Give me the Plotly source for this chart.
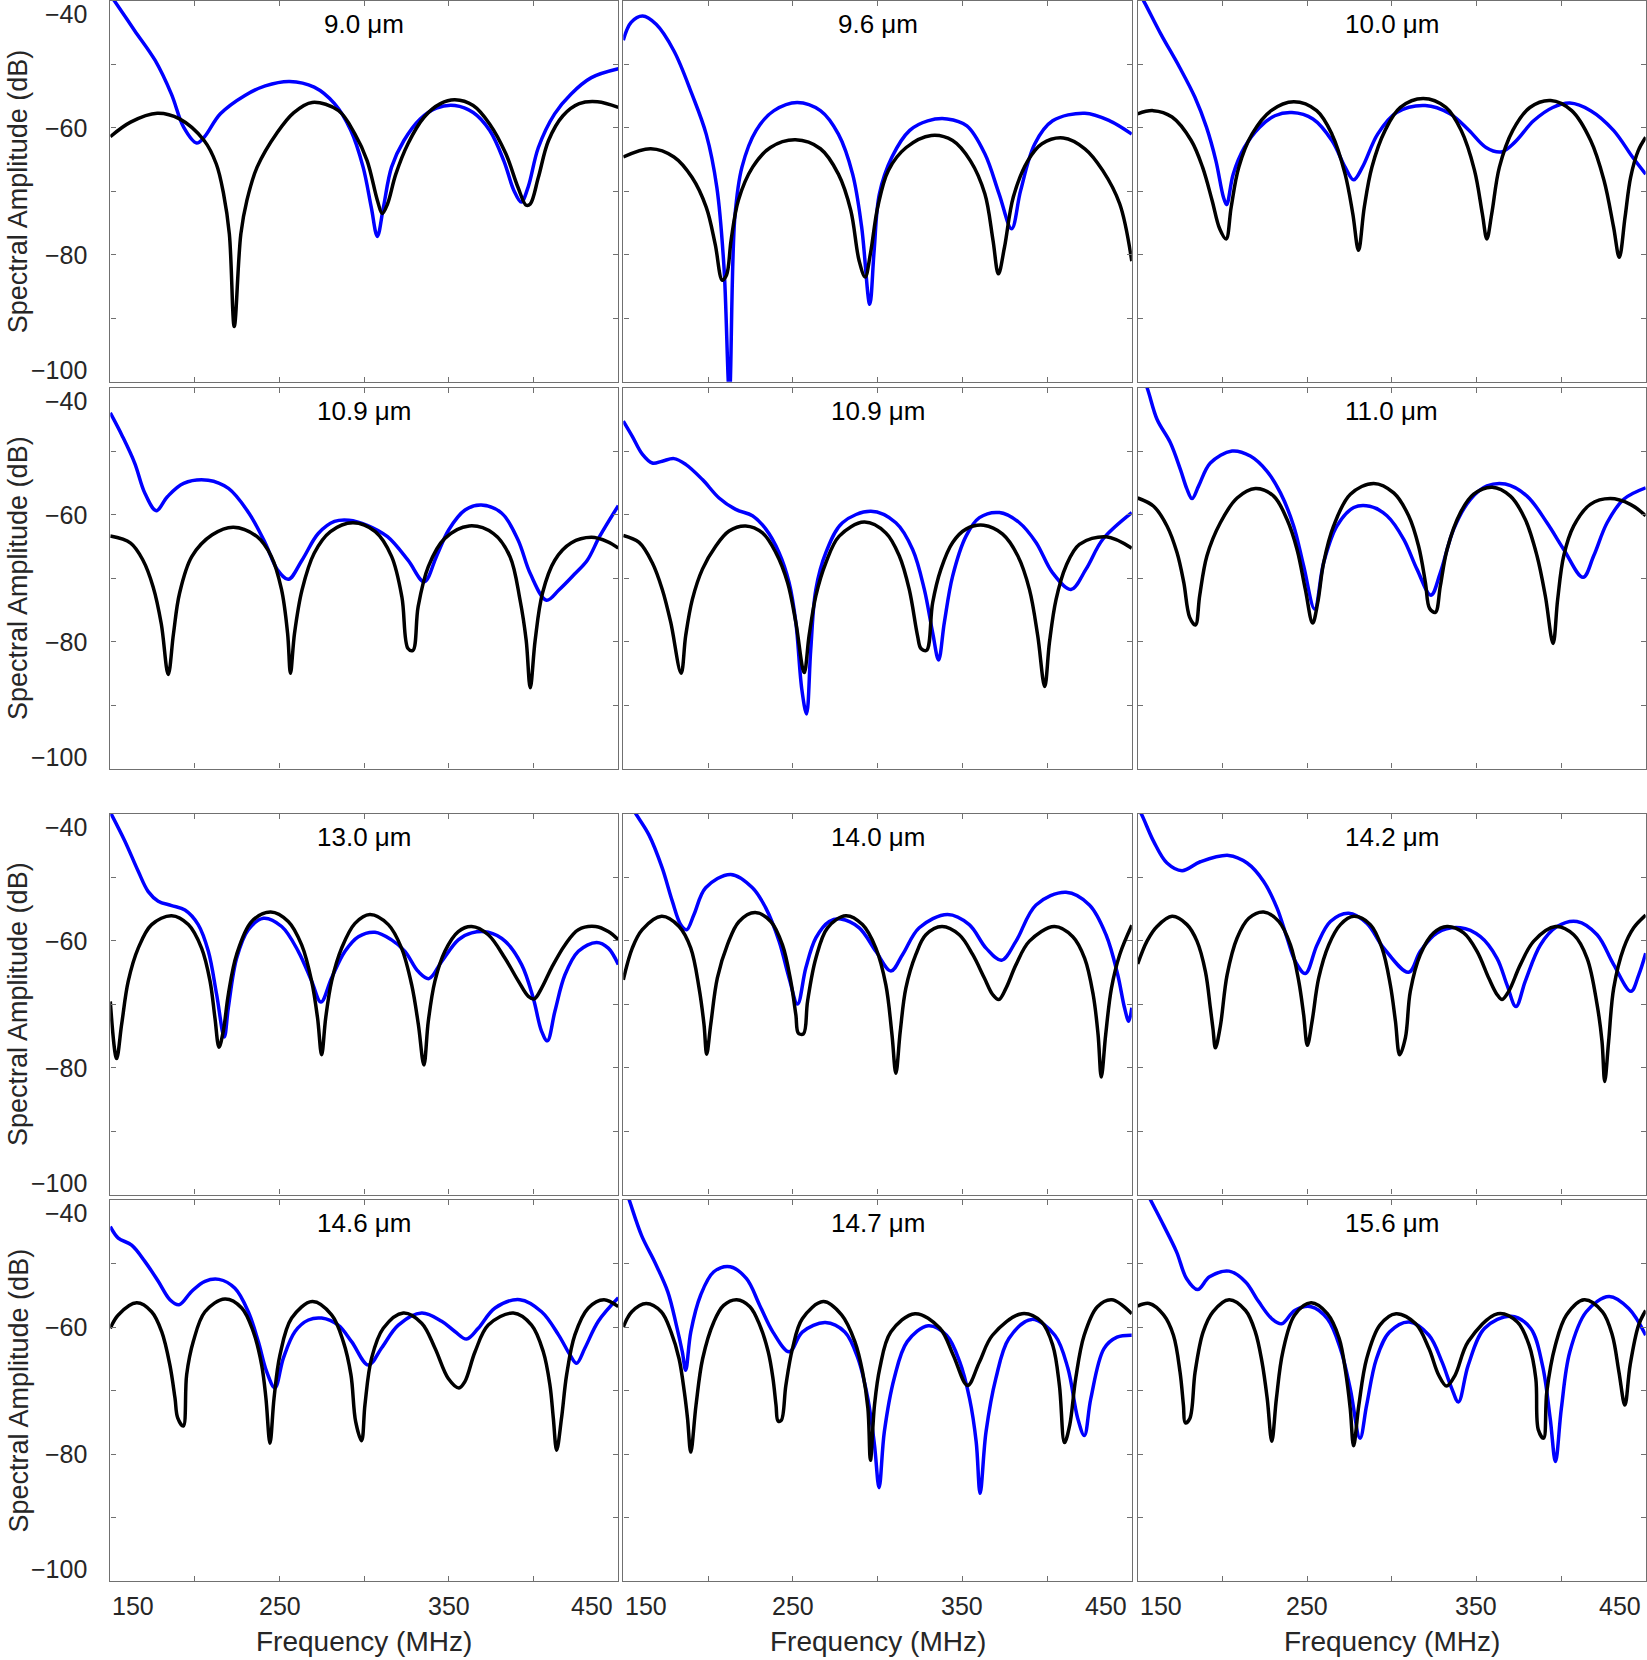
import plotly.graph_objects as go

W, H = 1647, 1660
FREQ_RANGE = [150, 450]
DB_RANGE = [-100, -40]

panel_titles = ["9.0 μm", "9.6 μm", "10.0 μm",
                "10.9 μm", "10.9 μm", "11.0 μm",
                "13.0 μm", "14.0 μm", "14.2 μm",
                "14.6 μm", "14.7 μm", "15.6 μm"]

ytick_vals = [-40, -60, -80, -100]
ytick_text = ["\u221240", "\u221260", "\u221280", "\u2212100"]
xtick_vals = [150, 250, 350, 450]
xtick_text = ["150", "250", "350", "450"]
y_title = "Spectral Amplitude (dB)"
x_title = "Frequency (MHz)"

# ---------------- panel 1 : 9.0 um ----------------
p1_black_f = [150, 162.0, 177.7, 190.9, 205.4, 212.6, 216.9, 220.3, 223.2, 227.1, 230.7, 236.7, 248.7, 258.4, 269.2, 284.8, 294.5, 301.7, 307.7, 310.6, 313.7, 318.6, 325.8, 335.4, 345.0, 353.5, 364.3, 374.0, 383.6, 390.8, 395.6, 398.0, 402.8, 408.8, 417.3, 426.9, 437.7, 450]
p1_black_db = [-61.4, -59.1, -57.7, -58.6, -62.0, -65.7, -70.4, -76.7, -91.3, -76.7, -71.4, -66.2, -60.7, -57.6, -56.0, -57.3, -61.0, -65.2, -71.4, -73.5, -72.0, -67.3, -62.5, -58.3, -56.2, -55.6, -56.5, -59.4, -64.1, -69.4, -72.2, -72.0, -67.8, -62.0, -58.1, -56.2, -55.9, -56.8]
p1_blue_f = [150, 152.4, 164.4, 176.5, 186.1, 193.3, 201.0, 205.4, 215.0, 229.5, 241.5, 255.9, 270.4, 282.4, 292.0, 299.3, 304.1, 307.7, 311.3, 316.1, 323.4, 333.0, 342.6, 353.5, 364.3, 374.0, 382.4, 388.4, 392.7, 396.8, 402.8, 412.4, 422.0, 434.1, 450]
p1_blue_db = [-39.1, -40.0, -44.7, -49.4, -54.7, -59.9, -62.4, -61.5, -57.8, -54.9, -53.4, -52.7, -53.6, -56.2, -60.4, -66.2, -72.5, -77.1, -72.5, -66.2, -62.0, -58.6, -56.9, -56.5, -57.6, -60.4, -65.2, -69.9, -71.7, -69.3, -63.1, -57.8, -54.7, -52.1, -50.7]

# ---------------- panel 2 : 9.6 um ----------------
p2_black_f = [150, 166.2, 179.9, 190.5, 198.9, 204.2, 208.4, 210.9, 213.6, 217.9, 226.3, 236.8, 251.6, 266.3, 276.9, 284.2, 289.1, 292.7, 295.8, 300.1, 306.4, 316.9, 331.7, 344.3, 354.8, 363.3, 368.1, 371.3, 374.9, 380.1, 388.6, 397.0, 409.6, 422.3, 432.8, 442.9, 450]
p2_black_db = [-64.6, -63.3, -64.6, -67.8, -72.5, -78.3, -84.0, -83.2, -77.7, -71.4, -66.2, -63.1, -61.9, -63.3, -67.3, -73.0, -80.9, -83.5, -79.8, -72.5, -66.7, -63.1, -61.2, -62.0, -65.2, -70.4, -77.7, -83.0, -78.8, -70.9, -65.2, -62.5, -61.6, -63.3, -66.7, -72.0, -81.0]
p2_blue_f = [150, 154.6, 161.4, 169.4, 179.9, 190.5, 198.9, 205.2, 209.4, 212.6, 215.8, 220.0, 228.4, 238.9, 252.6, 266.3, 276.9, 285.3, 290.6, 295.4, 298.0, 301.1, 308.5, 319.0, 329.6, 341.1, 352.7, 363.3, 371.7, 379.1, 384.4, 392.8, 403.3, 422.3, 437.0, 450]
p2_blue_db = [-46.2, -43.4, -42.4, -43.7, -47.9, -54.7, -61.0, -69.4, -81.9, -102.0, -74.1, -66.2, -60.4, -57.3, -56.0, -57.3, -61.0, -67.3, -75.6, -87.8, -79.3, -70.4, -64.6, -60.4, -58.9, -58.6, -59.7, -64.1, -70.4, -75.9, -69.9, -62.5, -58.9, -57.7, -58.9, -61.0]

# ---------------- panel 3 : 10.0 um ----------------
p3_black_f = [150, 159.1, 170.3, 181.6, 188.3, 193.9, 198.4, 202.2, 205.2, 209.7, 217.5, 228.8, 242.2, 255.7, 264.7, 272.5, 277.0, 280.4, 283.8, 288.3, 296.1, 305.1, 318.6, 332.0, 341.0, 348.9, 353.5, 356.2, 359.1, 363.6, 371.5, 381.6, 393.9, 406.3, 417.5, 425.4, 431.0, 434.4, 437.8, 441.1, 445.6, 450]
p3_black_db = [-57.8, -57.3, -58.3, -62.0, -66.2, -71.4, -75.9, -77.5, -72.5, -66.2, -61.0, -57.3, -55.9, -57.3, -61.0, -67.3, -73.5, -79.3, -72.5, -66.2, -60.4, -56.8, -55.4, -56.8, -60.4, -66.7, -73.5, -77.5, -73.5, -66.2, -60.4, -56.8, -55.7, -57.3, -62.0, -68.3, -75.6, -80.4, -74.1, -67.8, -63.6, -61.5]
p3_blue_f = [150, 153.5, 163.6, 174.8, 183.8, 190.6, 196.2, 200.6, 202.5, 206.4, 213.0, 222.0, 231.0, 241.1, 253.5, 264.7, 272.5, 277.5, 282.7, 291.7, 302.9, 319.8, 334.4, 345.6, 355.7, 364.7, 372.6, 383.8, 395.1, 405.2, 417.5, 431.0, 442.2, 450]
p3_blue_db = [-38.4, -40.0, -45.2, -50.5, -55.2, -59.9, -65.2, -70.9, -72.1, -67.3, -63.1, -59.9, -58.1, -57.6, -58.6, -62.0, -66.2, -68.2, -66.2, -61.0, -57.6, -56.5, -57.8, -60.4, -63.1, -63.8, -62.3, -58.9, -56.8, -56.1, -57.3, -60.4, -64.6, -67.3]

# ---------------- panel 4 : 10.9 um ----------------
p4_black_f = [150, 162.0, 169.3, 175.3, 180.1, 184.2, 187.3, 190.9, 198.2, 210.2, 222.7, 236.7, 245.1, 251.1, 254.7, 256.4, 258.8, 263.2, 270.4, 280.0, 293.3, 306.5, 316.1, 322.2, 325.8, 328.7, 331.8, 337.8, 347.4, 361.9, 376.3, 386.0, 392.0, 395.6, 398.0, 400.9, 405.2, 412.5, 422.1, 434.1, 443.8, 450]
p4_black_db = [-63.4, -64.5, -67.2, -71.4, -77.2, -85.2, -78.8, -72.4, -66.6, -63.2, -62.0, -63.5, -66.6, -71.8, -78.7, -85.0, -78.7, -71.9, -66.1, -62.7, -61.3, -62.7, -66.6, -73.0, -81.1, -81.4, -74.5, -68.2, -63.8, -61.8, -63.0, -66.6, -73.5, -79.8, -87.3, -79.8, -72.4, -67.2, -64.5, -63.6, -64.3, -65.3]
p4_blue_f = [150, 157.2, 164.4, 170.5, 177.2, 183.7, 193.3, 207.8, 219.8, 231.9, 241.5, 248.7, 255.2, 263.2, 272.8, 282.4, 290.9, 301.7, 313.7, 325.8, 335.4, 342.6, 349.9, 359.5, 369.1, 381.2, 390.8, 398.0, 407.6, 414.9, 424.5, 431.7, 438.9, 450]
p4_blue_db = [-44.0, -47.7, -51.9, -56.7, -59.4, -57.2, -55.1, -54.6, -55.9, -59.8, -64.5, -68.7, -70.2, -67.2, -63.0, -61.1, -60.9, -61.7, -63.5, -67.2, -70.6, -66.6, -62.4, -59.3, -58.5, -59.8, -64.0, -69.3, -73.5, -71.9, -69.3, -67.2, -63.5, -58.6]

# ---------------- panel 5 : 10.9 um ----------------
p5_black_f = [150, 159.3, 167.1, 173.0, 178.0, 184.1, 186.8, 190.7, 196.7, 204.5, 212.4, 222.2, 232.1, 240.0, 246.9, 251.8, 256.7, 259.6, 263.6, 269.5, 277.4, 292.1, 304.9, 312.8, 318.7, 323.6, 325.6, 328.9, 332.5, 337.4, 344.3, 352.2, 362.6, 373.8, 382.7, 389.6, 394.5, 398.6, 401.4, 405.3, 411.2, 419.1, 434.8, 450]
p5_black_db = [-63.3, -64.4, -67.6, -71.8, -77.0, -85.0, -79.1, -73.4, -68.6, -65.0, -62.6, -61.8, -62.9, -66.0, -70.7, -77.0, -84.9, -79.1, -72.8, -67.6, -63.4, -61.2, -62.9, -66.5, -71.8, -79.1, -81.1, -81.4, -73.9, -68.6, -64.4, -62.3, -61.7, -63.1, -66.5, -71.8, -79.1, -87.1, -80.2, -73.4, -68.1, -64.7, -63.5, -65.3]
p5_blue_f = [150, 155.3, 161.2, 167.1, 173.0, 179.9, 186.8, 196.7, 206.5, 216.3, 226.2, 234.1, 241.9, 247.8, 251.8, 255.3, 258.1, 260.6, 263.6, 269.5, 279.3, 296.1, 310.8, 320.7, 327.6, 332.5, 336.0, 339.4, 344.3, 352.2, 360.1, 371.9, 383.7, 393.5, 403.3, 414.1, 423.0, 432.9, 450]
p5_blue_db = [-45.3, -47.7, -50.5, -51.9, -51.6, -51.2, -52.1, -54.5, -57.4, -59.2, -60.2, -62.3, -66.0, -70.7, -77.0, -87.5, -91.4, -81.2, -71.8, -66.0, -61.3, -59.5, -61.3, -65.5, -71.8, -78.6, -82.9, -77.0, -69.7, -63.4, -60.5, -59.7, -61.3, -64.4, -69.2, -71.8, -68.6, -63.9, -59.7]

# ---------------- panel 6 : 11.0 um ----------------
p6_black_f = [150, 159.4, 167.3, 173.2, 177.2, 180.7, 184.1, 186.6, 190.9, 198.8, 208.7, 219.5, 230.3, 238.2, 244.1, 249.0, 253.3, 256.3, 259.8, 265.7, 275.6, 289.4, 301.2, 310.0, 315.9, 319.9, 322.4, 325.8, 328.7, 332.7, 340.6, 348.4, 359.3, 370.1, 378.9, 385.8, 390.7, 395.3, 398.0, 401.6, 407.5, 417.3, 429.1, 440.9, 450]
p6_black_db = [-57.4, -58.7, -61.8, -66.0, -70.7, -76.2, -77.4, -72.8, -66.5, -61.3, -57.4, -55.9, -57.1, -60.8, -65.5, -71.8, -77.1, -73.9, -67.6, -61.8, -56.8, -55.1, -56.6, -60.2, -65.0, -70.7, -74.8, -75.4, -71.3, -65.5, -59.7, -56.8, -55.7, -57.1, -60.8, -66.5, -72.8, -80.3, -73.4, -66.5, -61.8, -58.4, -57.5, -58.4, -60.2]
p6_blue_f = [150, 155.5, 161.4, 169.3, 175.2, 179.1, 182.1, 186.0, 192.9, 205.7, 216.5, 226.4, 234.3, 242.1, 248.0, 254.5, 259.8, 267.7, 277.6, 287.0, 297.2, 307.1, 314.9, 323.2, 328.7, 336.6, 346.5, 356.3, 367.1, 379.9, 391.7, 401.6, 413.0, 419.3, 427.2, 437.0, 450]
p6_blue_db = [-36.5, -40.0, -45.0, -48.7, -52.9, -56.0, -57.5, -55.5, -51.9, -50.0, -50.8, -53.2, -56.6, -61.8, -68.1, -74.9, -67.6, -61.8, -58.9, -58.7, -60.2, -63.9, -68.6, -72.7, -69.2, -62.3, -57.6, -55.5, -55.2, -57.1, -61.3, -65.5, -69.9, -66.5, -61.3, -57.6, -55.8]

# ---------------- panel 7 : 13.0 um ----------------
p7_black_f = [150, 153.7, 156.7, 160.6, 166.5, 174.4, 186.2, 196.1, 203.9, 208.9, 211.8, 214.2, 216.7, 219.7, 224.6, 233.5, 244.7, 255.1, 263.0, 268.9, 272.4, 274.8, 277.2, 280.7, 286.6, 294.5, 303.3, 314.2, 322.0, 328.0, 331.9, 335.2, 337.8, 341.7, 347.6, 355.5, 363.4, 373.2, 383.1, 391.0, 396.9, 400.4, 404.7, 410.6, 418.5, 426.4, 436.6, 444.1, 450]
p7_black_db = [-69.6, -78.6, -73.2, -66.4, -61.2, -57.5, -56.1, -57.5, -61.2, -66.4, -72.2, -76.8, -74.3, -68.5, -62.2, -57.0, -55.5, -57.0, -60.7, -66.4, -72.2, -78.0, -72.2, -66.4, -61.2, -57.3, -55.9, -57.5, -61.2, -67.0, -73.2, -79.6, -72.7, -66.4, -61.7, -58.6, -57.8, -59.1, -62.8, -66.4, -68.8, -69.2, -67.5, -64.3, -60.7, -58.3, -57.8, -58.6, -59.9]
p7_blue_f = [150, 158.7, 166.5, 172.4, 178.3, 186.2, 194.1, 201.9, 207.9, 212.8, 217.3, 219.7, 224.6, 231.5, 240.4, 251.2, 261.0, 268.9, 274.4, 280.7, 288.6, 296.5, 306.3, 316.1, 324.0, 331.9, 338.2, 345.7, 355.5, 363.4, 373.2, 383.1, 392.9, 399.8, 404.7, 408.1, 412.6, 418.5, 426.4, 437.2, 444.1, 450]
p7_blue_db = [-39.8, -44.4, -49.1, -52.3, -53.8, -54.5, -55.2, -57.5, -61.7, -68.5, -75.2, -70.6, -62.8, -58.3, -56.5, -57.8, -61.7, -66.4, -69.7, -65.9, -61.7, -59.4, -58.7, -59.9, -61.7, -64.9, -66.0, -63.3, -59.9, -58.8, -58.7, -60.1, -63.8, -69.1, -74.3, -75.8, -71.1, -65.4, -61.7, -60.3, -61.2, -63.8]

# ---------------- panel 8 : 14.0 um ----------------
p8_black_f = [150, 155.3, 161.2, 172.6, 182.9, 189.8, 194.7, 197.6, 199.2, 201.6, 205.5, 211.4, 218.3, 227.8, 237.0, 243.9, 248.8, 251.8, 253.3, 256.3, 258.7, 263.6, 270.5, 281.3, 291.1, 299.0, 304.9, 308.5, 310.8, 313.4, 316.7, 322.6, 328.5, 338.0, 348.2, 356.1, 363.0, 367.9, 371.5, 375.8, 381.7, 389.6, 404.3, 415.2, 422.2, 427.2, 430.1, 432.0, 434.6, 438.0, 442.9, 450]
p8_black_db = [-66.2, -61.2, -58.3, -56.2, -57.8, -61.2, -67.5, -73.2, -77.9, -73.2, -65.9, -60.7, -57.0, -55.6, -57.0, -60.7, -66.4, -71.7, -74.6, -74.7, -69.6, -62.8, -58.0, -56.1, -57.5, -61.2, -67.0, -74.8, -80.9, -74.3, -67.5, -62.2, -59.1, -57.8, -59.1, -62.2, -65.9, -68.5, -69.3, -67.5, -63.8, -60.1, -57.8, -59.4, -62.8, -68.5, -74.8, -81.5, -74.8, -67.5, -62.2, -57.6]
p8_blue_f = [150, 157.3, 165.2, 173.0, 178.9, 183.9, 187.4, 191.7, 198.6, 213.4, 226.2, 234.1, 241.9, 247.8, 252.8, 257.7, 263.6, 271.5, 278.3, 289.2, 299.0, 307.9, 314.8, 324.6, 341.3, 354.1, 364.0, 373.2, 381.7, 393.5, 411.2, 425.0, 434.8, 441.7, 445.7, 448.2, 450]
p8_blue_db = [-36.9, -40.0, -43.4, -48.6, -53.8, -57.5, -58.3, -55.9, -51.7, -49.6, -51.7, -54.9, -60.1, -65.9, -70.0, -64.3, -59.6, -57.0, -56.6, -58.0, -61.7, -64.8, -62.2, -58.0, -55.9, -57.5, -61.2, -63.1, -60.1, -54.4, -52.4, -54.4, -59.1, -65.4, -70.6, -72.7, -70.6]

# ---------------- panel 9 : 14.2 um ----------------
p9_black_f = [150, 155.5, 161.4, 170.3, 179.1, 185.0, 190.0, 192.9, 194.5, 195.9, 198.8, 202.8, 208.7, 215.6, 224.4, 233.3, 240.2, 245.1, 248.0, 250.2, 253.0, 256.9, 262.8, 269.7, 277.6, 287.4, 294.3, 299.2, 302.2, 304.7, 308.1, 311.0, 316.9, 324.8, 332.7, 342.5, 350.4, 357.3, 362.2, 365.2, 369.1, 376.0, 383.9, 396.7, 407.5, 415.4, 421.3, 424.2, 425.8, 428.1, 431.1, 437.0, 442.9, 450]
p9_black_db = [-63.7, -60.1, -57.8, -56.2, -57.5, -60.1, -64.9, -70.6, -74.0, -76.9, -73.5, -65.4, -59.6, -56.5, -55.5, -57.0, -60.7, -66.4, -71.7, -76.5, -72.7, -65.9, -60.7, -57.5, -56.2, -57.5, -61.2, -67.0, -72.7, -78.0, -75.3, -68.0, -62.2, -58.8, -57.8, -58.8, -61.7, -65.9, -68.5, -69.3, -68.0, -63.8, -60.1, -57.8, -59.1, -62.8, -70.1, -75.9, -82.2, -75.9, -67.5, -61.2, -58.0, -56.0]
p9_blue_f = [150, 152.0, 159.4, 167.3, 176.2, 187.0, 203.7, 214.6, 224.4, 232.3, 238.2, 243.1, 249.0, 255.9, 263.8, 274.6, 285.4, 295.3, 310.0, 316.9, 326.8, 340.6, 352.4, 362.2, 368.1, 373.4, 378.9, 387.8, 397.6, 409.4, 421.3, 431.1, 441.3, 445.9, 450]
p9_blue_db = [-39.2, -40.0, -44.4, -47.8, -49.0, -47.6, -46.6, -47.8, -50.7, -54.9, -59.6, -63.3, -65.2, -60.7, -57.0, -55.7, -57.3, -61.2, -65.0, -61.7, -58.8, -58.0, -59.4, -62.8, -67.0, -70.4, -66.4, -60.7, -57.8, -57.0, -59.1, -63.8, -68.0, -65.4, -62.0]

# ---------------- panel 10 : 14.6 um ----------------
p10_black_f = [150, 154.7, 165.6, 174.4, 180.3, 185.2, 188.2, 189.8, 193.1, 195.1, 199.0, 205.9, 217.7, 227.6, 234.4, 239.4, 241.9, 244.3, 246.7, 250.2, 257.1, 269.3, 280.7, 287.6, 292.1, 294.9, 298.4, 300.4, 304.3, 311.2, 323.0, 333.9, 341.7, 349.6, 355.9, 359.4, 365.4, 373.2, 388.0, 398.8, 405.7, 409.6, 411.6, 413.6, 416.5, 419.5, 424.4, 432.3, 441.5, 450]
p10_black_db = [-60.2, -58.1, -56.2, -57.6, -60.7, -66.0, -71.2, -74.3, -75.6, -67.5, -62.3, -57.6, -55.6, -57.0, -60.7, -66.0, -71.2, -78.3, -71.2, -64.4, -58.6, -56.0, -58.1, -62.3, -67.5, -74.9, -77.9, -72.2, -64.9, -60.2, -57.8, -59.4, -63.3, -68.1, -69.6, -68.6, -63.9, -59.7, -57.8, -59.7, -63.9, -69.1, -74.3, -79.4, -74.3, -67.5, -61.2, -57.0, -55.7, -56.8]
p10_blue_f = [150, 154.7, 162.6, 170.5, 178.3, 185.2, 190.6, 198.0, 205.9, 214.2, 223.6, 231.5, 237.4, 242.3, 247.2, 252.2, 259.1, 267.0, 274.8, 284.6, 292.5, 302.4, 310.2, 320.1, 333.9, 345.7, 353.5, 360.4, 367.3, 377.2, 391.9, 404.7, 414.6, 421.5, 425.4, 430.3, 438.2, 450]
p10_blue_db = [-44.2, -46.0, -47.1, -49.7, -52.8, -55.7, -56.5, -54.4, -52.8, -52.5, -53.9, -57.6, -62.3, -67.0, -69.6, -64.9, -60.7, -58.9, -58.6, -59.7, -62.3, -66.0, -63.3, -59.7, -57.8, -59.1, -60.7, -61.9, -60.2, -57.0, -55.7, -57.6, -61.2, -64.4, -65.7, -63.3, -59.1, -55.4]

# ---------------- panel 11 : 14.7 um ----------------
p11_black_f = [150, 155.0, 163.5, 172.4, 178.2, 182.9, 186.0, 187.9, 189.8, 192.9, 196.8, 203.4, 209.2, 216.9, 224.7, 230.5, 235.5, 238.3, 240.1, 241.3, 243.2, 245.9, 249.8, 255.6, 268.0, 278.8, 286.6, 291.2, 294.3, 295.8, 298.2, 301.3, 307.8, 322.1, 336.8, 344.6, 353.1, 360.1, 367.8, 385.2, 396.8, 403.4, 407.3, 410.3, 413.4, 416.9, 421.9, 429.7, 438.2, 450]
p11_black_db = [-60.0, -57.6, -56.3, -57.6, -60.8, -65.0, -70.2, -74.4, -79.7, -72.3, -65.0, -59.2, -56.6, -55.7, -56.8, -59.7, -63.9, -68.1, -72.3, -74.8, -74.7, -69.2, -63.4, -58.7, -56.0, -58.1, -62.3, -67.1, -72.8, -81.0, -72.3, -66.5, -60.8, -57.9, -60.2, -64.4, -69.2, -65.5, -61.3, -57.9, -59.2, -62.9, -69.2, -78.2, -75.4, -68.1, -61.3, -56.8, -55.7, -57.9]
p11_blue_f = [150, 153.5, 160.8, 168.6, 176.3, 181.3, 184.8, 186.8, 189.8, 195.6, 203.4, 213.1, 222.7, 230.5, 238.3, 247.9, 255.6, 269.2, 280.7, 288.5, 294.3, 298.2, 300.9, 304.0, 309.8, 317.5, 329.9, 340.7, 348.5, 354.3, 358.2, 360.5, 364.0, 369.8, 377.5, 391.0, 404.6, 412.3, 418.1, 422.0, 425.8, 433.6, 441.3, 450]
p11_blue_db = [-37.3, -40.0, -45.6, -49.8, -54.5, -59.7, -63.9, -66.8, -60.8, -55.0, -51.3, -50.5, -52.4, -56.6, -60.8, -63.9, -60.8, -59.3, -60.8, -65.0, -71.3, -78.6, -85.3, -76.5, -68.1, -62.3, -59.8, -61.3, -65.5, -71.3, -78.1, -86.2, -76.5, -68.1, -61.8, -58.8, -61.3, -66.5, -74.4, -77.1, -71.3, -63.4, -61.6, -61.3]

# ---------------- panel 12 : 15.6 um ----------------
p12_black_f = [150, 156.8, 165.3, 171.1, 175.0, 177.0, 178.1, 180.8, 183.9, 188.6, 194.4, 204.0, 213.7, 219.5, 223.4, 226.5, 229.2, 231.9, 235.7, 242.7, 252.4, 262.0, 269.0, 272.8, 275.5, 277.5, 280.6, 285.2, 293.0, 302.6, 314.2, 322.0, 327.8, 332.4, 337.4, 345.2, 362.6, 374.2, 381.2, 385.1, 386.6, 389.7, 391.6, 396.6, 403.2, 413.7, 424.5, 430.3, 434.2, 437.7, 440.8, 445.8, 450]
p12_black_db = [-56.7, -56.3, -58.1, -61.3, -67.1, -72.3, -75.1, -74.4, -67.1, -60.8, -57.6, -55.7, -57.4, -60.8, -65.5, -71.3, -78.0, -71.3, -63.9, -58.1, -56.2, -57.9, -61.8, -67.1, -72.8, -78.7, -72.3, -65.0, -59.7, -57.9, -59.5, -63.4, -67.6, -69.3, -67.6, -62.3, -57.9, -59.2, -62.9, -68.1, -76.2, -77.5, -70.2, -62.9, -58.1, -55.7, -57.6, -61.3, -67.1, -72.3, -66.0, -59.7, -57.4]
p12_blue_f = [150, 157.6, 165.3, 173.0, 178.9, 185.4, 192.4, 204.0, 213.7, 221.4, 229.2, 235.0, 242.7, 252.4, 262.0, 269.7, 275.5, 281.3, 285.2, 291.0, 298.7, 310.3, 322.0, 329.7, 335.5, 339.4, 345.2, 354.9, 370.4, 382.0, 389.0, 393.6, 396.7, 400.2, 405.2, 414.9, 428.4, 440.0, 450]
p12_blue_db = [-36.0, -40.0, -44.0, -48.2, -52.4, -54.1, -52.1, -51.2, -52.9, -56.0, -58.7, -59.5, -57.4, -56.8, -58.7, -63.4, -69.7, -77.5, -72.3, -65.0, -60.8, -59.2, -61.3, -65.5, -69.7, -71.8, -66.0, -60.2, -58.3, -60.2, -66.0, -74.4, -81.2, -72.8, -63.9, -57.6, -55.2, -57.1, -61.3]

black_f = [p1_black_f, p2_black_f, p3_black_f, p4_black_f, p5_black_f, p6_black_f,
           p7_black_f, p8_black_f, p9_black_f, p10_black_f, p11_black_f, p12_black_f]
black_db = [p1_black_db, p2_black_db, p3_black_db, p4_black_db, p5_black_db, p6_black_db,
            p7_black_db, p8_black_db, p9_black_db, p10_black_db, p11_black_db, p12_black_db]
blue_f = [p1_blue_f, p2_blue_f, p3_blue_f, p4_blue_f, p5_blue_f, p6_blue_f,
          p7_blue_f, p8_blue_f, p9_blue_f, p10_blue_f, p11_blue_f, p12_blue_f]
blue_db = [p1_blue_db, p2_blue_db, p3_blue_db, p4_blue_db, p5_blue_db, p6_blue_db,
           p7_blue_db, p8_blue_db, p9_blue_db, p10_blue_db, p11_blue_db, p12_blue_db]

# ---------------- layout (pixel geometry) ----------------
col_px = [(110.3, 618.3), (623.3, 1131.8), (1137.7, 1645.7)]
row_px = [(0.8, 381.8), (387.5, 768.5), (813.5, 1194.5), (1200.0, 1581.0)]

FONT = "Liberation Sans, Arial, Helvetica, sans-serif"
FRAME = "#707070"
TXT = "#262626"

fig = go.Figure()
layout = dict(width=W, height=H, margin=dict(l=0, r=0, t=0, b=0),
              paper_bgcolor="white", plot_bgcolor="white", showlegend=False,
              font=dict(family=FONT, color=TXT))
annotations = []

for i in range(12):
    r, c = divmod(i, 3)
    n = i + 1
    sfx = "" if n == 1 else str(n)
    x0, x1 = col_px[c]
    y0, y1 = row_px[r]
    axis_common = dict(showline=True, mirror="ticks", linecolor=FRAME, linewidth=1.4,
                       ticks="inside", ticklen=5, tickcolor=FRAME, tickwidth=1,
                       showgrid=False, zeroline=False, showticklabels=False)
    layout["xaxis" + sfx] = dict(domain=[x0 / W, x1 / W], range=FREQ_RANGE,
                                 tickvals=[200, 250, 300, 350, 400],
                                 anchor="y" + sfx, **axis_common)
    layout["yaxis" + sfx] = dict(domain=[1 - y1 / H, 1 - y0 / H], range=DB_RANGE,
                                 tickvals=[-90, -80, -70, -60, -50],
                                 anchor="x" + sfx, **axis_common)

    fig.add_trace(go.Scatter(x=blue_f[i], y=blue_db[i], mode="lines",
                             line=dict(color="#0000ff", width=3.5, shape="spline", smoothing=1.0),
                             xaxis="x" + sfx, yaxis="y" + sfx, hoverinfo="skip"))
    fig.add_trace(go.Scatter(x=black_f[i], y=black_db[i], mode="lines",
                             line=dict(color="#000000", width=3.5, shape="spline", smoothing=1.0),
                             xaxis="x" + sfx, yaxis="y" + sfx, hoverinfo="skip"))

    # panel title
    annotations.append(dict(text=panel_titles[i], xref="x" + sfx + " domain", yref="y" + sfx + " domain",
                            x=0.5, y=1, xanchor="center", yanchor="middle", yshift=-23,
                            showarrow=False, font=dict(size=26, color="#000000", family=FONT)))

    # y tick labels on first column
    if c == 0:
        for v, t in zip(ytick_vals, ytick_text):
            ya, ys = "middle", 0
            if v == -40:
                ya, ys = "top", 3
            elif v == -100:
                ya, ys = "bottom", -4
            annotations.append(dict(text=t, xref="paper", yref="y" + sfx, x=89 / W, y=v,
                                    xanchor="right", yanchor=ya, yshift=ys, showarrow=False,
                                    font=dict(size=25, color=TXT, family=FONT)))
        annotations.append(dict(text=y_title, xref="paper", yref="paper",
                                x=1 / W, y=1 - (y0 + y1) / 2 / H, textangle=-90,
                                xanchor="left", yanchor="middle", showarrow=False,
                                font=dict(size=27, color=TXT, family=FONT)))
    # x tick labels on last row
    if r == 3:
        for v, t in zip(xtick_vals, xtick_text):
            xa, xs = "center", 0
            if v == 150:
                xa = "left"
            elif v == 450:
                xa, xs = "right", -3
            annotations.append(dict(text=t, xref="x" + sfx, yref="paper", x=v, y=1 - 1606 / H,
                                    xanchor=xa, yanchor="middle", xshift=xs, showarrow=False,
                                    font=dict(size=25, color=TXT, family=FONT)))
        annotations.append(dict(text=x_title, xref="paper", yref="paper",
                                x=(x0 + x1) / 2 / W, y=1 - 1641 / H,
                                xanchor="center", yanchor="middle", showarrow=False,
                                font=dict(size=28, color=TXT, family=FONT)))

layout["annotations"] = annotations
fig.update_layout(**layout)
fig.write_html("out.html", config={"displayModeBar": False},
               post_script="document.body.style.margin='0';document.body.style.overflow='hidden';")
